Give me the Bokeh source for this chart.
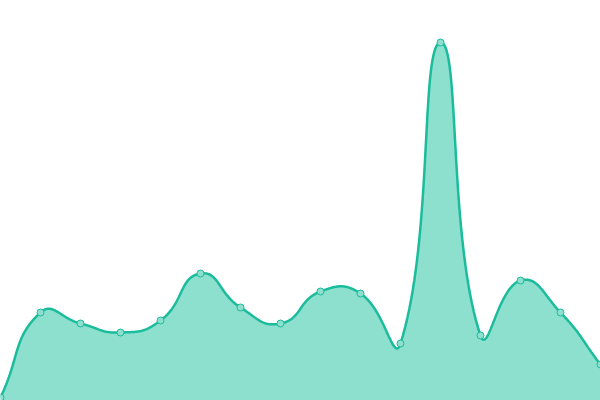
import numpy as np
from bokeh.plotting import figure
from bokeh.models import Range1d, ColumnDataSource
from bokeh.embed import file_html
from bokeh.resources import INLINE

# data (x index, value)
categories = list(range(16))
values = [3, 88, 77, 68, 80, 127, 93, 77, 109, 107, 57, 358, 65, 120, 88, 36]

LINE = "#1abc9c"
FILL = "#8ddfce"

W, H = 600, 400
p = figure(width=W, height=H, output_backend="svg", toolbar_location=None,
           x_range=Range1d(0, 15), y_range=Range1d(0, 400),
           min_border=0)
p.axis.visible = False
p.grid.visible = False
p.outline_line_color = None
p.background_fill_color = "white"
p.border_fill_color = "white"

# smooth (bezier) rendering of the polyline, computed in screen-proportional units
sx = W / 15.0
sy = H / 400.0
px = np.array(categories, float) * sx
py = np.array(values, float) * sy
n = len(px)
smooth = 0.5
cps_out = []
cps_in = []
for i in range(n):
    prev = max(i - 1, 0)
    nxt = min(i + 1, n - 1)
    vx = px[nxt] - px[prev]
    vy = py[nxt] - py[prev]
    l0 = np.hypot(px[i] - px[prev], py[i] - py[prev])
    l1 = np.hypot(px[nxt] - px[i], py[nxt] - py[i])
    r = 0.5 if (l0 + l1) == 0 else l1 / (l0 + l1)
    cps_out.append((px[i] + vx * smooth * r, py[i] + vy * smooth * r))
    cps_in.append((px[i] - vx * smooth * (1 - r), py[i] - vy * smooth * (1 - r)))

cx, cy = [], []
t = np.linspace(0, 1, 40)
for i in range(n - 1):
    p0 = (px[i], py[i])
    p1 = cps_out[i]
    p2 = cps_in[i + 1]
    p3 = (px[i + 1], py[i + 1])
    bx = (1 - t) ** 3 * p0[0] + 3 * (1 - t) ** 2 * t * p1[0] + 3 * (1 - t) * t ** 2 * p2[0] + t ** 3 * p3[0]
    by = (1 - t) ** 3 * p0[1] + 3 * (1 - t) ** 2 * t * p1[1] + 3 * (1 - t) * t ** 2 * p2[1] + t ** 3 * p3[1]
    if i > 0:
        bx, by = bx[1:], by[1:]
    cx.extend(bx / sx)
    cy.extend(by / sy)

curve = ColumnDataSource(dict(x=cx, y=cy, y0=[0] * len(cx)))
p.varea(x="x", y1="y0", y2="y", source=curve, fill_color=FILL, fill_alpha=1)
p.line(x="x", y="y", source=curve, line_color=LINE, line_width=2.5)
p.scatter(categories, values, size=7, fill_color=FILL, line_color=LINE, line_width=1)

open("out.html", "w").write(file_html(p, INLINE))
